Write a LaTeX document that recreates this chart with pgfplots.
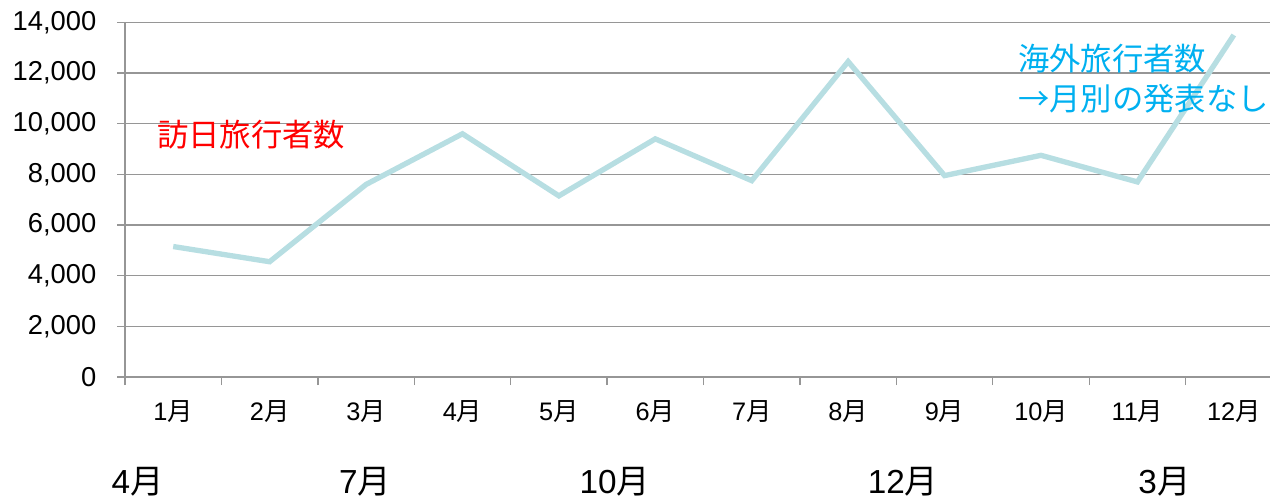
\documentclass[border=0pt]{standalone}
\usepackage{pgfplots}
\pgfplotsset{compat=1.18}
\usepackage{fontspec}
\setmainfont{Liberation Sans}
\newfontfamily\cjk{Noto Sans CJK JP}
\definecolor{linecol}{RGB}{183,222,226}
\definecolor{gridcol}{RGB}{150,150,150}
\definecolor{redtxt}{RGB}{255,0,0}
\definecolor{bluetxt}{RGB}{0,176,240}
\newcommand{\yticksz}{\fontsize{20.5pt}{22pt}\selectfont}
\newcommand{\xticksz}{\fontsize{19pt}{21pt}\selectfont}
\newcommand{\bigsz}{\fontsize{25pt}{28pt}\selectfont}
\newcommand{\notesz}{\fontsize{23.5pt}{30pt}\selectfont}
\begin{document}
\begin{tikzpicture}
\begin{axis}[
  scale only axis,
  width=858.75pt, height=266pt,
  xmin=0.5, xmax=12.375,
  ymin=0, ymax=14000,
  clip=false,
  axis x line*=bottom, axis y line*=left,
  x axis line style={-, gridcol, line width=1.1pt},
  y axis line style={-, gridcol, line width=1.1pt},
  ytick={0,2000,...,14000},
  scaled y ticks=false,
  ymajorgrids,
  grid style={gridcol, line width=1.1pt},
  xtick={0.5,1.5,...,11.5},
  xticklabels={},
  extra x ticks={1,2,3,4,5,6,7,8,9,10,11,12},
  extra x tick labels={1{\cjk 月},2{\cjk 月},3{\cjk 月},4{\cjk 月},5{\cjk 月},6{\cjk 月},7{\cjk 月},8{\cjk 月},9{\cjk 月},10{\cjk 月},11{\cjk 月},12{\cjk 月}},
  extra x tick style={major tick length=0pt, grid=none,
    xticklabel style={font=\xticksz, yshift=-14.5pt}},
  tick align=outside,
  major tick length=6pt,
  tick style={gridcol, line width=1pt},
  yticklabel style={font=\yticksz, xshift=-12pt},
  /pgf/number format/.cd, 1000 sep={,}, assume math mode=true,
]
% monthly visitor counts
\addplot[linecol, line width=4pt, line join=miter, mark=none] coordinates {
  (1,5150) (2,4550) (3,7600) (4,9600) (5,7150) (6,9400)
  (7,7750) (8,12450) (9,7950) (10,8750) (11,7700) (12,13500)
};
\node[anchor=west, inner sep=0pt, text=redtxt, font=\notesz\cjk]
  at (axis cs:0.83,9550) {訪日旅行者数};
\node[anchor=west, inner sep=0pt, text=bluetxt, font=\notesz\cjk, align=left]
  at (axis cs:9.76,11780) {海外旅行者数\\→月別の発表なし};
% fiscal-period markers below the month axis
\begin{scope}[every node/.style={font=\bigsz, inner sep=0pt}]
\node at (axis cs:0.63,-4150) {4{\cjk 月}};
\node at (axis cs:2.99,-4150) {7{\cjk 月}};
\node at (axis cs:5.58,-4150) {10{\cjk 月}};
\node at (axis cs:8.57,-4150) {12{\cjk 月}};
\node at (axis cs:11.28,-4150) {3{\cjk 月}};
\end{scope}
\end{axis}
\pgfresetboundingbox
\path[use as bounding box] (-93.75pt,-93.75pt) rectangle (858.75pt,282.75pt);
\end{tikzpicture}
\end{document}
